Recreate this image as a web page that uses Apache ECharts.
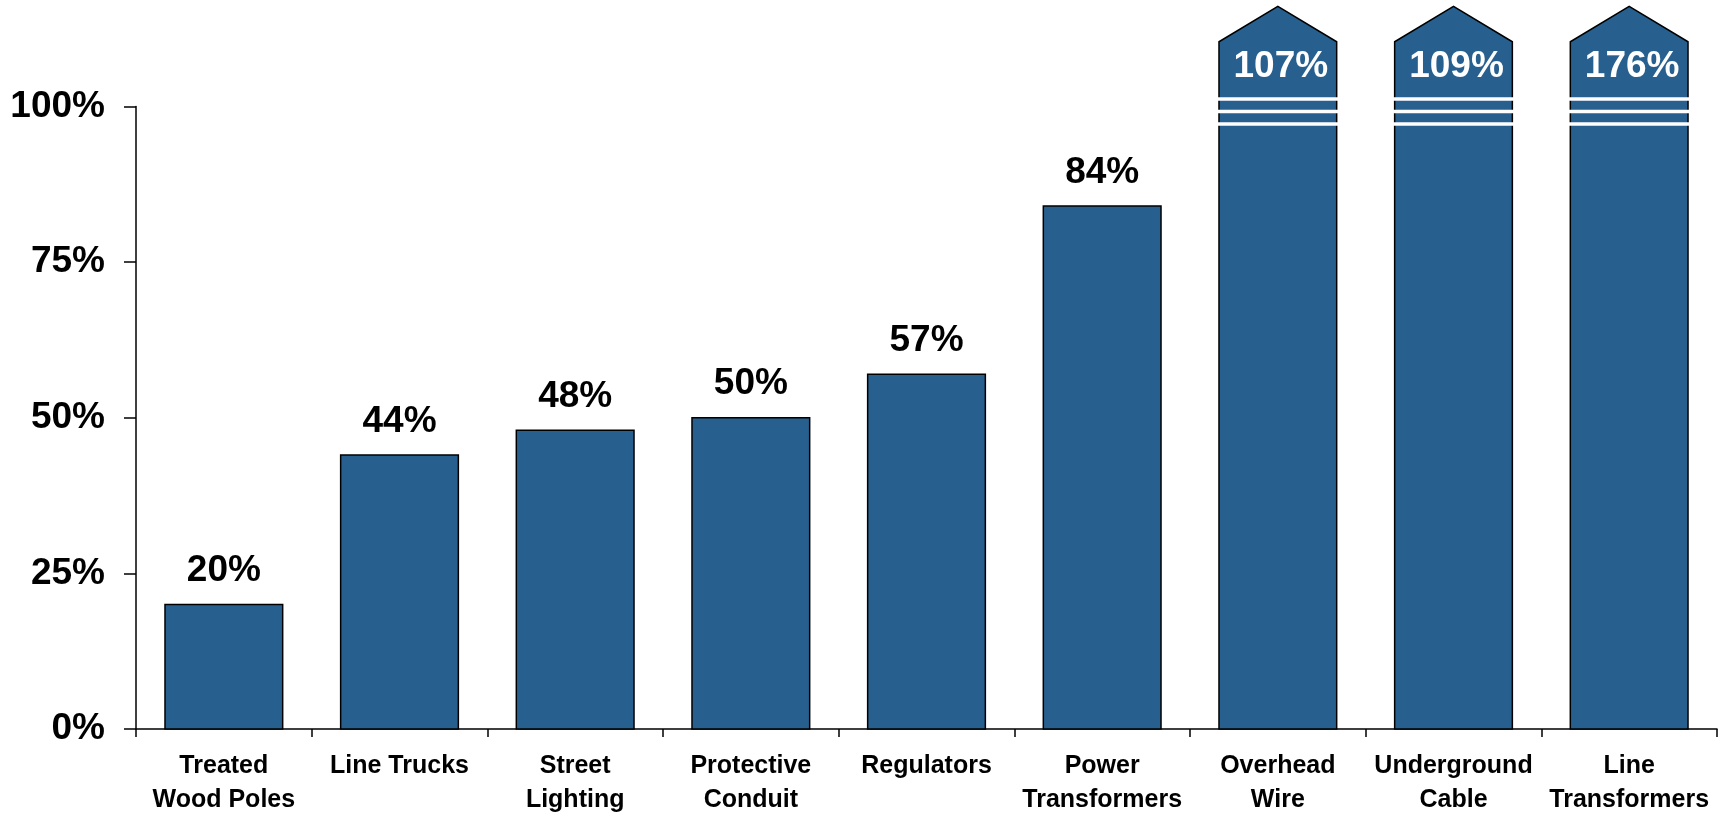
<!DOCTYPE html>
<html>
<head>
<meta charset="utf-8">
<script src="https://cdn.jsdelivr.net/npm/echarts@6/dist/echarts.min.js"></script>
<style>
html,body{margin:0;padding:0;background:#fff;}
#c{width:1718px;height:817px;}
</style>
</head>
<body>
<div id="c"></div>
<script>
const categories = ['Treated\nWood Poles','Line Trucks','Street\nLighting','Protective\nConduit','Regulators','Power\nTransformers','Overhead\nWire','Underground\nCable','Line\nTransformers'];
const values = [20, 44, 48, 50, 57, 84, 107, 109, 176];
const yTicks = [0, 25, 50, 75, 100];

// drawing constants for the broken (off-scale) bars
const AXIS_MAX = 100;
const BREAK_SHOULDER = 110.4;
const BREAK_APEX = 116.1;
const BREAK_LABEL = 106.3;
const BREAK_STRIPES = [101.2, 99.2, 97.2];
const BAR_COLOR = '#27608f';
const FONT = '"Liberation Sans", Arial, sans-serif';

const chart = echarts.init(document.getElementById('c'));

function renderItem(params, api) {
  const idx = api.value(0);
  const v = api.value(1);
  const bw = api.size([1, 0])[0] * 0.67;
  const base = api.coord([idx, 0]);
  const x = base[0], y0 = base[1];
  const xl = x - bw / 2, xr = x + bw / 2;
  const children = [];
  const label = v + '%';
  if (v <= AXIS_MAX) {
    const yt = api.coord([idx, v])[1];
    children.push({
      type: 'rect',
      shape: { x: xl, y: yt, width: bw, height: y0 - yt },
      style: { fill: BAR_COLOR, stroke: '#000', lineWidth: 1.5 }
    });
    children.push({
      type: 'text',
      style: { text: label, x: x, y: yt - 15, align: 'center', verticalAlign: 'bottom',
        fill: '#000', font: 'bold 37px ' + FONT }
    });
  } else {
    const ys = api.coord([idx, BREAK_SHOULDER])[1];
    const ya = api.coord([idx, BREAK_APEX])[1];
    children.push({
      type: 'polygon',
      shape: { points: [[xl, y0], [xl, ys], [x, ya], [xr, ys], [xr, y0]] },
      style: { fill: BAR_COLOR, stroke: '#000', lineWidth: 1.5, lineJoin: 'miter' }
    });
    BREAK_STRIPES.forEach(function (s) {
      const yy = api.coord([idx, s])[1];
      children.push({
        type: 'rect',
        shape: { x: xl - 1.5, y: yy - 1.8, width: bw + 3, height: 3.6 },
        style: { fill: '#fff' }
      });
    });
    const yl = api.coord([idx, BREAK_LABEL])[1];
    children.push({
      type: 'text',
      style: { text: label, x: x + 3, y: yl, align: 'center', verticalAlign: 'middle',
        fill: '#fff', font: 'bold 37px ' + FONT }
    });
  }
  return { type: 'group', children: children };
}

chart.setOption({
  animation: false,
  grid: { left: 136, right: 1, top: 106.5, bottom: 88, containLabel: false },
  xAxis: {
    type: 'category',
    data: categories,
    axisLine: { lineStyle: { color: '#000', width: 1.5 } },
    axisTick: { show: true, alignWithLabel: false, length: 8, lineStyle: { color: '#000', width: 1.5 } },
    axisLabel: { interval: 0, color: '#000', fontFamily: FONT, fontWeight: 'bold', fontSize: 25, lineHeight: 34, margin: 20 }
  },
  yAxis: {
    type: 'value',
    min: yTicks[0],
    max: yTicks[yTicks.length - 1],
    interval: 25,
    splitLine: { show: false },
    axisLine: { show: true, lineStyle: { color: '#000', width: 1.5 } },
    axisTick: { show: true, length: 12, lineStyle: { color: '#000', width: 1.5 } },
    axisLabel: { color: '#000', fontFamily: FONT, fontWeight: 'bold', fontSize: 37, margin: 31,
      formatter: function (v) { return v + '%'; } }
  },
  series: [{
    type: 'custom',
    renderItem: renderItem,
    clip: false,
    encode: { x: 0, y: 1 },
    data: values.map(function (v, i) { return [i, v]; })
  }]
});
</script>
</body>
</html>
